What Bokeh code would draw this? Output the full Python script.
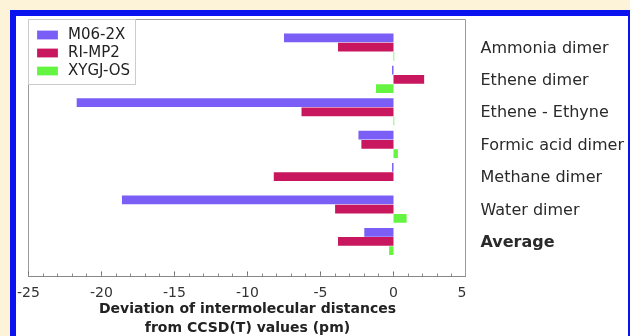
from bokeh.plotting import figure
from bokeh.layouts import row
from bokeh.models import Range1d, FixedTicker, Legend, LegendItem, ColumnDataSource
from bokeh.core.properties import value
from bokeh.transform import dodge
from bokeh.embed import file_html
from bokeh.resources import INLINE

systems = ["Ammonia dimer", "Ethene dimer", "Ethene - Ethyne", "Formic acid dimer",
           "Methane dimer", "Water dimer", "Average"]
label_styles = ["normal", "normal", "normal", "normal", "normal", "normal", "bold"]
m06_2x = [-7.5, -0.1, -21.7, -2.4, -0.1, -18.6, -2.0]
ri_mp2 = [-3.8, 2.1, -6.3, -2.2, -8.2, -4.0, -3.8]
xygj_os = [0.05, -1.2, 0.05, 0.3, 0.0, 0.9, -0.3]
series_names = ["M06-2X", "RI-MP2", "XYGJ-OS"]
x_ticks = [-25, -20, -15, -10, -5, 0, 5]

colors = ["#7A5EF5", "#C8175E", "#66F442"]
ypos = [len(systems) - 1 - i for i in range(len(systems))]

src = ColumnDataSource(dict(y=ypos, m06=m06_2x, ri=ri_mp2, xy=xygj_os,
                            name=systems, style=label_styles))

y_range = Range1d(-1.08, 6.85)

p = figure(frame_width=438, frame_height=257, output_backend="svg", toolbar_location=None,
           x_range=Range1d(x_ticks[0], x_ticks[-1]), y_range=y_range,
           min_border_left=28, min_border_top=19, min_border_right=0, min_border_bottom=60,
           background_fill_color="white", background_fill_alpha=0.0,
           border_fill_color="white", border_fill_alpha=0.0)
p.outline_line_color = "#9a9a9a"
p.xgrid.visible = False
p.ygrid.visible = False
p.yaxis.visible = False

bw = 0.27
r1 = p.hbar(y=dodge("y", 0.285), left=0, right="m06", height=bw, source=src, color=colors[0], line_color=None)
r2 = p.hbar(y=dodge("y", 0.0), left=0, right="ri", height=bw, source=src, color=colors[1], line_color=None)
r3 = p.hbar(y=dodge("y", -0.285), left=0, right="xy", height=bw, source=src, color=colors[2], line_color=None)

xa = p.xaxis[0]
xa.ticker = FixedTicker(ticks=x_ticks, minor_ticks=list(range(x_ticks[0], x_ticks[-1] + 1)))
xa.major_label_overrides = {t: str(t) for t in x_ticks}
xa.major_tick_in = 5
xa.major_tick_out = 0
xa.minor_tick_in = 3
xa.minor_tick_out = 0
xa.axis_line_color = "#888888"
xa.major_tick_line_color = "#666666"
xa.minor_tick_line_color = "#888888"
xa.major_label_text_font = "DejaVu Sans"
xa.major_label_text_font_size = "14px"
xa.major_label_text_color = "#333333"
xa.major_label_standoff = 10
xa.axis_label = "Deviation of intermolecular distances\nfrom CCSD(T) values (pm)"
xa.axis_label_text_font = "DejaVu Sans"
xa.axis_label_text_font_size = "14px"
xa.axis_label_text_font_style = "bold"
xa.axis_label_text_color = "#222222"
xa.axis_label_standoff = 0

legend = Legend(items=[LegendItem(label=series_names[0], renderers=[r1]),
                       LegendItem(label=series_names[1], renderers=[r2]),
                       LegendItem(label=series_names[2], renderers=[r3])],
                location="top_left", margin=0, padding=5, spacing=0,
                glyph_width=26, glyph_height=11, label_height=16, label_standoff=8,
                label_text_font="DejaVu Sans", label_text_font_size="15px",
                label_text_color="#222222", border_line_color="#999999",
                background_fill_color="white", background_fill_alpha=1.0)
p.add_layout(legend)

# row labels panel sharing the y scale
p2 = figure(frame_width=164, frame_height=257, output_backend="svg", toolbar_location=None,
            x_range=Range1d(0, 1), y_range=y_range,
            min_border_left=0, min_border_top=19, min_border_right=0, min_border_bottom=60,
            background_fill_alpha=0.0, border_fill_alpha=0.0)
p2.outline_line_color = None
p2.axis.visible = False
p2.grid.visible = False
p2.text(x=0, y="y", text="name", source=src, x_offset=14,
        text_font=value("DejaVu Sans"), text_font_size="16px", text_font_style="style",
        text_color="#2a2a2a", text_baseline="middle", text_align="left")

layout = row(p, p2, spacing=0)

page_css = ("<style>html{background:#FDF3D9;overflow:hidden;}"
            "body{background:transparent;overflow:hidden;}"
            "body::before{content:'';position:fixed;left:10px;top:10px;right:-4px;bottom:-10px;"
            "border:6px solid #0A12F0;background:#FFFFFF;z-index:-1;}</style>")
html = file_html(layout, INLINE, title="chart")
html = html.replace("</head>", page_css + "</head>", 1)
open("out.html", "w").write(html)
